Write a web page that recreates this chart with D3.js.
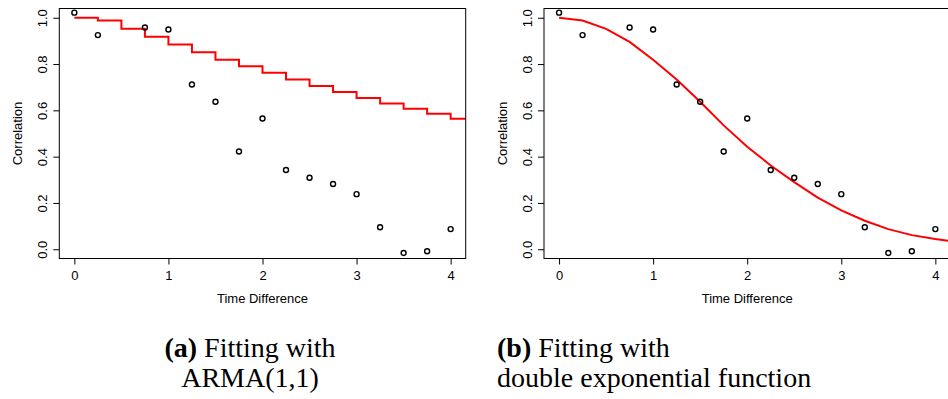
<!DOCTYPE html>
<html lang="en">
<head>
    <meta charset="utf-8">
    <title>Correlation fits</title>
    <script src="https://d3js.org/d3.v7.min.js"></script>
    <style>
        body { margin: 0; background: #fff; }
        text { font-family: "Liberation Sans", Arial, sans-serif; }
        .cap { font-family: "Liberation Serif", "Times New Roman", serif; font-size: 28px; fill: #000; }
    </style>
</head>
<body>
<script type="text/javascript">
    // observed correlations
    var lag = [0, 0.25, 0.75, 1, 1.25, 1.5, 1.75, 2, 2.25, 2.5, 2.75, 3, 3.25, 3.5, 3.75, 4];
    var corr = [1.022, 0.925, 0.958, 0.949, 0.712, 0.637, 0.422, 0.565, 0.342, 0.309, 0.282, 0.238, 0.095, -0.016, -0.009, 0.087];

    // fitted curves, one value every 0.25
    var fitLag = [0, 0.25, 0.5, 0.75, 1, 1.25, 1.5, 1.75, 2, 2.25, 2.5, 2.75, 3, 3.25, 3.5, 3.75, 4, 4.25];
    var armaFit = [1.000, 0.988, 0.952, 0.918, 0.884, 0.851, 0.819, 0.790, 0.762, 0.733, 0.705, 0.679, 0.653, 0.630, 0.607, 0.585, 0.564, 0.544];
    var dexpFit = [1.000, 0.988, 0.952, 0.896, 0.819, 0.733, 0.637, 0.535, 0.443, 0.362, 0.290, 0.223, 0.168, 0.123, 0.087, 0.061, 0.044, 0.030];

    var xTicks = [0, 1, 2, 3, 4];
    var yTicks = [0, 0.2, 0.4, 0.6, 0.8, 1.0];

    var width = 948, height = 399;

    var svg = d3.select("body")
            .append("svg")
            .attr("width", width)
            .attr("height", height);

    // plot box (window.top is taken, so other names)
    var boxTop = 8.5, boxBottom = 258.5, pw = 406.4;

    var y = d3.scaleLinear()
            .domain([-0.04, 1.04])
            .range([boxBottom, boxTop]);

    function panel(id, left, fit, stepped) {
        var x = d3.scaleLinear()
                .domain([-0.16, 4.16])
                .range([left, left + pw]);

        svg.append("clipPath")
                .attr("id", "clip" + id)
                .append("rect")
                .attr("x", left)
                .attr("y", boxTop)
                .attr("width", pw)
                .attr("height", boxBottom - boxTop);

        // x axis
        var gx = svg.append("g")
                .attr("transform", "translate(0," + boxBottom + ")")
                .call(d3.axisBottom(x).tickValues(xTicks).tickSize(6).tickFormat(d3.format("d")));
        gx.select(".domain").remove();
        gx.selectAll("line").attr("stroke", "#000");
        gx.selectAll("text")
                .attr("y", 21.5)
                .attr("dy", 0)
                .attr("fill", "#000")
                .style("font-size", "13px");

        // y axis, labels turned like R does
        var gy = svg.append("g")
                .attr("transform", "translate(" + left + ",0)")
                .call(d3.axisLeft(y).tickValues(yTicks).tickSize(6).tickFormat(d3.format(".1f")));
        gy.select(".domain").remove();
        gy.selectAll("line").attr("stroke", "#000");
        gy.selectAll("text")
                .attr("x", 0)
                .attr("y", -12.5)
                .attr("dy", 0)
                .attr("transform", "rotate(-90)")
                .attr("text-anchor", "middle")
                .attr("fill", "#000")
                .style("font-size", "13px");

        // titles
        svg.append("text")
                .attr("x", left + pw / 2)
                .attr("y", 303)
                .attr("text-anchor", "middle")
                .style("font-size", "13px")
                .text("Time Difference");

        svg.append("text")
                .attr("transform", "translate(" + (left - 37.5) + "," + ((boxTop + boxBottom) / 2) + ") rotate(-90)")
                .attr("text-anchor", "middle")
                .style("font-size", "13px")
                .text("Correlation");

        // fitted line
        var line = d3.line()
                .x(function(d, i) { return x(fitLag[i]); })
                .y(function(d) { return y(d); });
        if (stepped) line.curve(d3.curveStepAfter);

        svg.append("path")
                .datum(fit)
                .attr("clip-path", "url(#clip" + id + ")")
                .attr("d", line)
                .attr("fill", "none")
                .attr("stroke", "#ff0000")
                .attr("stroke-width", 2);

        // points
        svg.append("g")
                .selectAll("circle")
                .data(corr)
                .enter()
                .append("circle")
                .attr("cx", function(d, i) { return x(lag[i]); })
                .attr("cy", function(d) { return y(d); })
                .attr("r", 2.5)
                .attr("fill", "none")
                .attr("stroke", "#000")
                .attr("stroke-width", 1.4);

        // box
        svg.append("rect")
                .attr("x", left)
                .attr("y", boxTop)
                .attr("width", pw)
                .attr("height", boxBottom - boxTop)
                .attr("fill", "none")
                .attr("stroke", "#000")
                .attr("stroke-width", 1);
    }

    panel("a", 59.3, armaFit, true);
    panel("b", 544, dexpFit, false);

    // captions
    var capA1 = svg.append("text").attr("class", "cap").attr("x", 250).attr("y", 357).attr("text-anchor", "middle");
    capA1.append("tspan").attr("font-weight", "bold").text("(a)");
    capA1.append("tspan").text(" Fitting with");
    svg.append("text").attr("class", "cap").attr("x", 250).attr("y", 387).attr("text-anchor", "middle").text("ARMA(1,1)");

    var capB1 = svg.append("text").attr("class", "cap").attr("x", 497).attr("y", 357);
    capB1.append("tspan").attr("font-weight", "bold").text("(b)");
    capB1.append("tspan").text(" Fitting with");
    svg.append("text").attr("class", "cap").attr("x", 497).attr("y", 387).text("double exponential function");
</script>
</body>
</html>
